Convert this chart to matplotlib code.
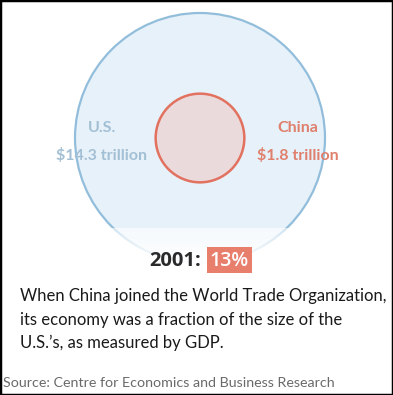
import numpy as np
import matplotlib
matplotlib.use("Agg")
from matplotlib import pyplot as plt
from matplotlib.patches import Circle, Rectangle

# GDP in 2001, trillions of dollars
countries = ["U.S.", "China"]
gdp = [14.3, 1.8]
gdp_labels = ["$14.3 trillion", "$1.8 trillion"]
year = "2001"
share = "13%"
caption = ["When China joined the World Trade Organization,",
           "its economy was a fraction of the size of the",
           "U.S.\u2019s, as measured by GDP."]
source = "Source: Centre for Economics and Business Research"

plt.rcParams['font.family'] = ['Lato', 'DejaVu Sans']

W, H = 393, 395
fig = plt.figure(figsize=(W / 100, H / 100), dpi=100)
ax = fig.add_axes([0, 0, 1, 1])
ax.set_xlim(0, W)
ax.set_ylim(H, 0)
ax.axis('off')

cx, cy = 200, 138
r_max = 125
radii = [r_max * np.sqrt(g / max(gdp)) for g in gdp]

fills = ['#e6f1fa', '#ebdadc']
edges = ['#93bedb', '#e2725f']
txt_cols = ['#a3bfd4', '#df7f6c']

big = Circle((cx, cy), radii[0], facecolor=fills[0], edgecolor=edges[0], lw=1.6, zorder=1)
ax.add_patch(big)
small = Circle((cx, cy), radii[1], facecolor=fills[1], edgecolor=edges[1], lw=1.8, zorder=3)
ax.add_patch(small)

# white fade over the bottom of the big circle
fade_top = 228
grad = np.linspace(0.6, 1.0, 100).reshape(-1, 1)
img = np.ones((100, 1, 4))
img[..., 3] = grad
im = ax.imshow(img, extent=[cx - r_max - 3, cx + r_max + 3, cy + r_max + 3, fade_top],
               aspect='auto', zorder=2, interpolation='bilinear')
im.set_clip_path(Circle((cx, cy), r_max + 2, transform=ax.transData))
ax.set_xlim(0, W)
ax.set_ylim(H, 0)

# country labels
label_x = [102, 298]
for i in range(2):
    ax.text(label_x[i], 128, countries[i], ha='center', va='center', fontsize=11.5,
            fontweight='bold', color=txt_cols[i], zorder=4)
    ax.text(label_x[i], 155, gdp_labels[i], ha='center', va='center', fontsize=11.5,
            fontweight='bold', color=txt_cols[i], zorder=4)

# year and share
ax.text(201, 261, year + ":", ha='right', va='center', fontsize=14.5, fontweight='bold',
        family=['Open Sans', 'DejaVu Sans'], color='#2a2a2a', zorder=4)
ax.add_patch(Rectangle((207, 247), 45, 26, facecolor='#e87e6c', edgecolor='none', zorder=3))
ax.text(229.5, 261, share, ha='center', va='center', fontsize=14, fontweight='semibold',
        family=['Open Sans', 'DejaVu Sans'], color='white', zorder=4)

for i, line in enumerate(caption):
    ax.text(20, 296 + i * 23.5, line, ha='left', va='center', fontsize=12,
            color='#1a1a1a', zorder=4)

ax.text(3, 383, source, ha='left', va='center', fontsize=10.3, color='#6a6a6a', zorder=4)

# outer frame
fig.patches.append(Rectangle((0, 0), 1, 1, transform=fig.transFigure, fill=False,
                             edgecolor='black', lw=2.5))

fig.savefig('out.png', dpi=100)
